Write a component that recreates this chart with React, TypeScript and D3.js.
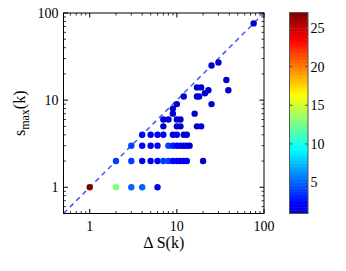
import React from 'react';
import * as d3 from 'd3';

// points: delta S(k), s_max(k), colour value
const deltaS = [1, 2, 3, 4, 6,
  2, 3, 4, 5, 6, 7, 8, 9, 10, 11, 12, 13, 20,
  3, 4, 5, 6, 8, 9, 10, 11, 12, 13, 14,
  4, 5, 6, 7, 9, 10, 12, 13,
  7, 10, 11, 17, 19,
  7, 8, 10, 11,
  9, 16, 9, 10, 25,
  12, 17, 18, 21, 23, 39, 17, 19, 37, 25, 30, 76];
const sMax = [1, 1, 1, 1, 1,
  2, 2, 2, 2, 2, 2, 2, 2, 2, 2, 2, 2, 2,
  3, 3, 3, 3, 3, 3, 3, 3, 3, 3, 3,
  4, 4, 4, 4, 4, 4, 4, 4,
  5, 5, 5, 5, 5,
  6, 6, 6, 6,
  7, 7, 8, 9, 9,
  11, 11, 11, 12, 13, 13, 14, 14, 17, 25, 27, 76];
const counts = [27, 13, 5, 5, 2,
  4, 4, 2, 2, 2, 4, 4, 2, 2, 2, 2, 2, 1,
  4, 2, 2, 2, 4, 3, 2, 2, 1, 2, 1,
  2, 2, 2, 2, 1, 2, 1, 1,
  1, 1, 1, 1, 1,
  1, 1, 1, 1,
  1, 1, 1, 1, 1,
  1, 1, 1, 1, 1, 1, 1, 1, 1, 1, 1, 1];

const axisTicks = [1, 10, 100];
const cbTicks = [5, 10, 15, 20, 25];
const cbDomain = [1, 27];

// jet colour map, bottom end trimmed a bit (no navy)
const jet = (t: number) => {
  const s = 0.08 + 0.92 * t;
  const f = (v: number) => Math.round(255 * Math.max(0, Math.min(1, v)));
  const r = 1.5 - Math.abs(4 * s - 3);
  const g = 1.5 - Math.abs(4 * s - 2);
  const b = 1.5 - Math.abs(4 * s - 1);
  return `rgb(${f(r)},${f(g)},${f(b)})`;
};

export default function App() {
  const left = 63.5, right = 264, top = 13, bottom = 213.5;
  const x = d3.scaleLog().domain([0.5, 100]).range([left, right]);
  const y = d3.scaleLog().domain([0.5, 100]).range([bottom, top]);
  const cb = d3.scaleLinear().domain(cbDomain).range([213.5, 12.5]);
  const cbNorm = d3.scaleLinear().domain(cbDomain).range([0, 1]).clamp(true);
  const color = (v: number) => jet(cbNorm(v));

  const minor = x.ticks().filter(t => !axisTicks.includes(t));
  const font = '"Liberation Serif", "Times New Roman", serif';
  const bands = d3.range(64);
  const cbX = 289.5, cbW = 18.5;

  return (
    <svg width={346} height={271} style={{ position: 'absolute', left: 0, top: 0, background: '#fff' }}>
      <line x1={x(0.5)} y1={y(0.5)} x2={x(100)} y2={y(100)} stroke="#3b5cf0" strokeWidth={1.5} strokeDasharray="5,4" />
      {deltaS.map((d, i) => (
        <circle key={i} cx={x(d)} cy={y(sMax[i])} r={3.2} fill={color(counts[i])} />
      ))}
      <rect x={left} y={top} width={right - left} height={bottom - top} fill="none" stroke="#000" strokeWidth={1} />
      {minor.map(t => (
        <g key={'m' + t} stroke="#000" strokeWidth={0.8}>
          <line x1={x(t)} x2={x(t)} y1={bottom} y2={bottom - 2.5} />
          <line x1={x(t)} x2={x(t)} y1={top} y2={top + 2.5} />
          <line y1={y(t)} y2={y(t)} x1={left} x2={left + 2.5} />
          <line y1={y(t)} y2={y(t)} x1={right} x2={right - 2.5} />
        </g>
      ))}
      {axisTicks.map(t => (
        <g key={'M' + t}>
          <g stroke="#000" strokeWidth={1}>
            <line x1={x(t)} x2={x(t)} y1={bottom} y2={bottom - 4.5} />
            <line x1={x(t)} x2={x(t)} y1={top} y2={top + 4.5} />
            <line y1={y(t)} y2={y(t)} x1={left} x2={left + 4.5} />
            <line y1={y(t)} y2={y(t)} x1={right} x2={right - 4.5} />
          </g>
          <text x={x(t)} y={230.5} textAnchor="middle" fontFamily={font} fontSize={14}>{t}</text>
          <text x={left - 5} y={y(t)} dy="0.35em" textAnchor="end" fontFamily={font} fontSize={14}>{t}</text>
        </g>
      ))}
      <text x={(left + right) / 2} y={247.5} textAnchor="middle" fontFamily={font} fontSize={16}>Δ S(k)</text>
      <text transform={`translate(25,${(top + bottom) / 2}) rotate(-90)`} textAnchor="middle" fontFamily={font} fontSize={16}>
        s<tspan dy={4} fontSize={12}>max</tspan><tspan dy={-4}>(k)</tspan>
      </text>
      {bands.map(i => {
        const v0 = cbDomain[0] + (i / 64) * (cbDomain[1] - cbDomain[0]);
        const v1 = cbDomain[0] + ((i + 1) / 64) * (cbDomain[1] - cbDomain[0]);
        return <rect key={i} x={cbX} y={cb(v1)} width={cbW} height={cb(v0) - cb(v1) + 0.5} fill={jet((i + 0.5) / 64)} />;
      })}
      <rect x={cbX} y={cb(cbDomain[1])} width={cbW} height={cb(cbDomain[0]) - cb(cbDomain[1])} fill="none" stroke="#555" strokeWidth={1} />
      {cbTicks.map(t => (
        <g key={'c' + t}>
          <line x1={cbX} x2={cbX + 3} y1={cb(t)} y2={cb(t)} stroke="#555" />
          <line x1={cbX + cbW} x2={cbX + cbW - 3} y1={cb(t)} y2={cb(t)} stroke="#555" />
          <text x={cbX + cbW + 2.5} y={cb(t)} dy="0.35em" fontFamily={font} fontSize={14}>{t}</text>
        </g>
      ))}
    </svg>
  );
}
